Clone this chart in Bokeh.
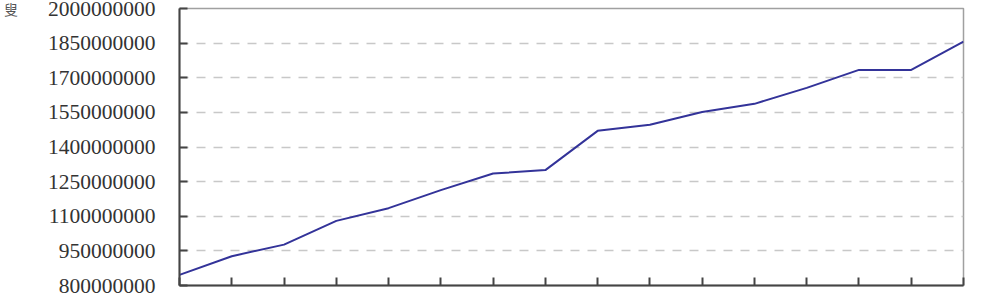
from bokeh.plotting import figure
from bokeh.models import FixedTicker, Range1d
from bokeh.embed import file_html
from bokeh.resources import INLINE

# data
periods = list(range(16))
values = [8.46e8, 9.27e8, 9.77e8, 10.80e8, 11.35e8, 12.13e8, 12.85e8, 13.00e8,
          14.70e8, 14.96e8, 15.52e8, 15.87e8, 16.56e8, 17.34e8, 17.34e8, 18.56e8]
y_ticks = [800000000, 950000000, 1100000000, 1250000000, 1400000000,
           1550000000, 1700000000, 1850000000, 2000000000]
y_tick_labels = [str(v) for v in y_ticks]
corner_text = "叟"

p = figure(width=981, height=296, output_backend="svg", toolbar_location=None,
           x_range=Range1d(0, 15), y_range=Range1d(8e8, 2e9),
           min_border_left=179, min_border_right=18, min_border_top=8,
           min_border_bottom=11)
p.background_fill_color = "white"
p.border_fill_color = "white"
p.outline_line_color = "#a0a0a0"
p.outline_line_width = 1.5

# grid
p.xgrid.grid_line_color = None
p.ygrid.ticker = FixedTicker(ticks=y_ticks[1:-1])
p.ygrid.grid_line_color = "#c8c8c8"
p.ygrid.grid_line_dash = "9 8"
p.ygrid.grid_line_width = 1.5

# y axis
ya = p.yaxis[0]
ya.ticker = FixedTicker(ticks=y_ticks)
ya.major_label_overrides = {t: l for t, l in zip(y_ticks, y_tick_labels)}
ya.major_label_text_font = "Liberation Serif"
ya.major_label_text_font_size = "21.5px"
ya.major_label_text_color = "#333333"
ya.major_label_standoff = 24
ya.major_tick_in = 8
ya.major_tick_out = 0
ya.minor_tick_line_color = None
ya.axis_line_color = "#444444"
ya.axis_line_width = 2
ya.major_tick_line_color = "#444444"
ya.major_tick_line_width = 2
ya.axis_label = corner_text
ya.axis_label_orientation = "horizontal"
ya.axis_label_align = "end"
ya.axis_label_standoff = 27
ya.axis_label_text_font = "Noto Sans CJK TC"
ya.axis_label_text_font_size = "14px"
ya.axis_label_text_font_style = "normal"
ya.axis_label_text_color = "#555555"

# x axis
xa = p.xaxis[0]
xa.ticker = FixedTicker(ticks=periods)
xa.major_label_overrides = {t: "" for t in periods}
xa.major_label_text_font_size = "1px"
xa.major_label_standoff = 0
xa.major_tick_in = 8
xa.major_tick_out = 0
xa.minor_tick_line_color = None
xa.axis_line_color = "#444444"
xa.axis_line_width = 2
xa.major_tick_line_color = "#444444"
xa.major_tick_line_width = 2

p.line(periods, values, line_color="#333399", line_width=2)

open("out.html", "w").write(file_html(p, INLINE))
